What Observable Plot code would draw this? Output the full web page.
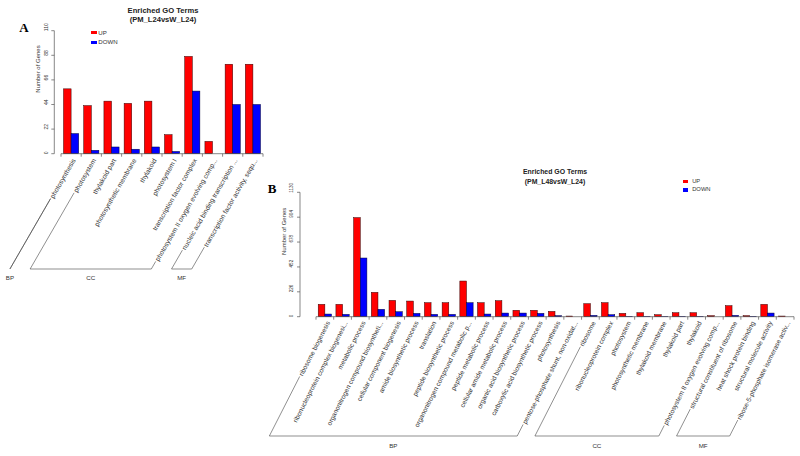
<!DOCTYPE html>
<html><head><meta charset="utf-8">
<script src="https://cdn.jsdelivr.net/npm/d3@7"></script>
<script src="https://cdn.jsdelivr.net/npm/@observablehq/plot@0.6"></script>
<style>
body{margin:0;background:#fff;}
#wrap{position:relative;width:800px;height:456px;overflow:hidden;background:#fff;font-family:"Liberation Sans",Arial,sans-serif;}
#wrap svg{position:absolute;left:0;top:0;}
.t{position:absolute;white-space:nowrap;color:#222;line-height:1;}
.sq{position:absolute;}
</style></head><body><div id="wrap"></div>
<script>
// ---------- Panel A data ----------
const termsA = ["photosynthesis","photosystem","thylakoid part","photosynthetic membrane","thylakoid","photosystem I","transcription factor complex","photosystem II oxygen evolving comp...","nucleic acid binding transcription ...","transcription factor activity, sequ..."];
const upA   = [58, 43, 47, 45, 47, 17, 87, 11, 80, 80];
const downA = [18, 3, 6, 4, 6, 2, 56, 0, 44, 44];
const ontA  = ["BP","CC","CC","CC","CC","CC","CC","CC","MF","MF"];
const yTicksA = [0, 22, 44, 66, 88, 110];

// ---------- Panel B data ----------
const termsB = ["ribosome biogenesis","ribonucleoprotein complex biogenesi...","metabolic process","organonitrogen compound biosyntheti...","cellular component biogenesis","amide biosynthetic process","translation","peptide biosynthetic process","organonitrogen compound metabolic p...","peptide metabolic process","cellular amide metabolic process","organic acid biosynthetic process","carboxylic acid biosynthetic process","photosynthesis","pentose-phosphate shunt, non-oxidat...","ribosome","ribonucleoprotein complex","photosystem","photosynthetic membrane","thylakoid membrane","thylakoid part","thylakoid","photosystem II oxygen evolving comp...","structural constituent of ribosome","heat shock protein binding","structural molecule activity","ribose-5-phosphate isomerase activ..."];
const upB   = [112,112,900,221,148,142,127,127,324,127,145,58,58,48,6,118,127,30,36,18,36,36,9,100,9,112,6];
const downB = [24,21,533,67,45,30,21,21,127,24,33,33,30,9,0,12,18,3,3,2,3,3,0,12,3,33,0];
const ontB  = ["BP","BP","BP","BP","BP","BP","BP","BP","BP","BP","BP","BP","BP","BP","BP","CC","CC","CC","CC","CC","CC","CC","CC","MF","MF","MF","MF"];
const yTicksB = [0, 226, 452, 678, 904, 1130];

const seriesNames = ["UP", "DOWN"];
const seriesColors = ["#ff0000", "#0000ff"];

const FONT = '"Liberation Sans", Arial, sans-serif';
const TXT = "#333";
const PAD = 0.25;

const canvas = document.createElement("canvas");
const ctx = canvas.getContext("2d");
function textWidth(s, fs) { ctx.font = `${fs}px "Liberation Sans"`; return ctx.measureText(s).width; }

function deco(cfg) {
  return (index, scales, values, dims) => {
    const x = scales.x, y = scales.y;
    const bw = x.bandwidth(), st = x.step();
    const y0 = y(0), yTop = y(cfg.ymax);
    const left = dims.marginLeft;
    const g = d3.create("svg:g").attr("fill", "none").attr("stroke", "#555").attr("stroke-width", 0.7);
    // y axis
    g.append("path").attr("d", `M${left},${y0}V${yTop}` + cfg.yticks.map(v => `M${left},${y(v)}h-3`).join(""));
    // x axis with ticks between groups
    const tk = cfg.terms.map(t => x(t) - (st - bw) / 2);
    tk.push(x(cfg.terms[cfg.terms.length - 1]) + bw + (st - bw) / 2);
    g.append("path").attr("d", `M${tk[0]},${y0}H${tk[tk.length - 1]}` + tk.map(v => `M${v},${y0}v3`).join(""));
    // brackets
    const th = cfg.angle * Math.PI / 180, c = Math.cos(th), s = Math.sin(th);
    const base = y0 + cfg.base;
    const rows = cfg.terms.map((t, i) => ({t, o: cfg.ont[i]}));
    for (const [o, items] of d3.groups(rows, d => d.o)) {
      const ends = [items[0], items[items.length - 1]].map(d => {
        const ax = x(d.t) + bw / 2 + cfg.ldx, ay = y0 + cfg.ldy;
        const L = textWidth(d.t, cfg.fs) + 1.5;
        const sx = ax - L * c, sy = ay + L * s;
        const k = (base - sy) / s;
        return {s: [sx, sy], p: [sx - k * c, base]};
      });
      const [a, b] = ends;
      g.append("path").attr("stroke", "#444").attr("stroke-width", 0.6)
        .attr("d", `M${a.s}L${a.p}L${b.p}L${b.s}`);
      g.append("text").attr("stroke", "none").attr("fill", TXT)
        .attr("font-size", cfg.gfs).attr("text-anchor", "middle").attr("dy", "0.35em")
        .attr("x", (a.p[0] + b.p[0]) / 2).attr("y", base + cfg.gdy).text(o);
    }
    return g.node();
  };
}

function panel(cfg) {
  const rows = cfg.terms.map((t, i) => ({term: t, up: cfg.up[i], down: cfg.down[i]}));
  const n = cfg.terms.length;
  const step = (cfg.xr[1] - cfg.xr[0]) / n;
  const half = step * (1 - PAD) / 2;
  return Plot.plot({
    width: 800, height: 456,
    marginLeft: cfg.ml, marginRight: 800 - cfg.xr[1], marginTop: cfg.mt, marginBottom: 456 - cfg.y0px,
    style: {background: "none", fontFamily: FONT, overflow: "visible"},
    x: {domain: cfg.terms, range: cfg.xr, paddingInner: PAD, paddingOuter: PAD / 2, round: false, axis: null},
    y: {domain: [0, cfg.ymax], axis: null},
    marks: [
      Plot.barY(rows, {x: "term", y: "up", fill: seriesColors[0], stroke: "#300", strokeWidth: 0.5, insetRight: half}),
      Plot.barY(rows, {x: "term", y: "down", fill: seriesColors[1], stroke: "#003", strokeWidth: 0.5, insetLeft: half}),
      Plot.text(rows, {x: "term", y: () => 0, text: "term", rotate: -cfg.angle, textAnchor: "end",
        dx: cfg.ldx, dy: cfg.ldy, fontSize: cfg.fs, fill: TXT}),
      Plot.text(cfg.yticks, {y: d => d, text: d => String(d), frameAnchor: "left", dx: -8.5, rotate: -90,
        fontSize: cfg.tfs, fill: TXT}),
      Plot.text(["Number of Genes"], {text: d => d, frameAnchor: "left", dx: -16.5, rotate: -90, fontSize: 6, fill: TXT}),
      deco(cfg)
    ]
  });
}

const wrap = document.getElementById("wrap");
wrap.appendChild(panel({terms: termsA, up: upA, down: downA, ont: ontA, yticks: yTicksA, ymax: 110,
  ml: 54.3, mt: 30.7, y0px: 153.7, xr: [61, 263], angle: 60, ldx: 2.5, ldy: 5, fs: 6.7, tfs: 5,
  base: 115.3, gdy: 9, gfs: 6.2}));
wrap.appendChild(panel({terms: termsB, up: upB, down: downB, ont: ontB, yticks: yTicksB, ymax: 1130,
  ml: 300, mt: 192.3, y0px: 316.7, xr: [316, 794], angle: 63, ldx: 3, ldy: 4.5, fs: 6.6, tfs: 4.6,
  base: 119.3, gdy: 10, gfs: 6.2}));

function txt(s, x, y, style, align) {
  const d = document.createElement("div");
  d.className = "t"; d.textContent = s;
  d.style.left = x + "px"; d.style.top = y + "px";
  d.style.transform = align === "left" ? "translate(0,-50%)" : "translate(-50%,-50%)";
  Object.assign(d.style, style);
  wrap.appendChild(d);
}
function sq(x, y, w, h, color) {
  const d = document.createElement("div");
  d.className = "sq";
  Object.assign(d.style, {left: (x - w / 2) + "px", top: (y - h / 2) + "px", width: w + "px", height: h + "px", background: color});
  wrap.appendChild(d);
}
// titles
txt("Enriched GO Terms", 163, 10.7, {fontWeight: "bold", fontSize: "7.6px"});
txt("(PM_L24vsW_L24)", 163, 19.5, {fontWeight: "bold", fontSize: "7.6px"});
txt("Enriched GO Terms", 555, 172, {fontWeight: "bold", fontSize: "6.9px"});
txt("(PM_L48vsW_L24)", 555, 181.5, {fontWeight: "bold", fontSize: "6.9px"});
// panel letters
txt("A", 24, 27, {fontWeight: "bold", fontSize: "13px", fontFamily: '"Liberation Serif", serif', color: "#000"});
txt("B", 272, 188, {fontWeight: "bold", fontSize: "13px", fontFamily: '"Liberation Serif", serif', color: "#000"});
// legends
const legA = [[93.8, 32.5], [93.8, 42.3]], legB = [[685.2, 181.7], [685.2, 190]];
seriesNames.forEach((nm, i) => {
  sq(legA[i][0], legA[i][1], 5.5, 3.4, seriesColors[i]);
  txt(nm, legA[i][0] + 4.5, legA[i][1], {fontSize: "6.1px", color: TXT}, "left");
  sq(legB[i][0], legB[i][1], 5, 3.2, seriesColors[i]);
  txt(nm, legB[i][0] + 7, legB[i][1], {fontSize: "5.8px", color: TXT}, "left");
});
</script></body></html>
